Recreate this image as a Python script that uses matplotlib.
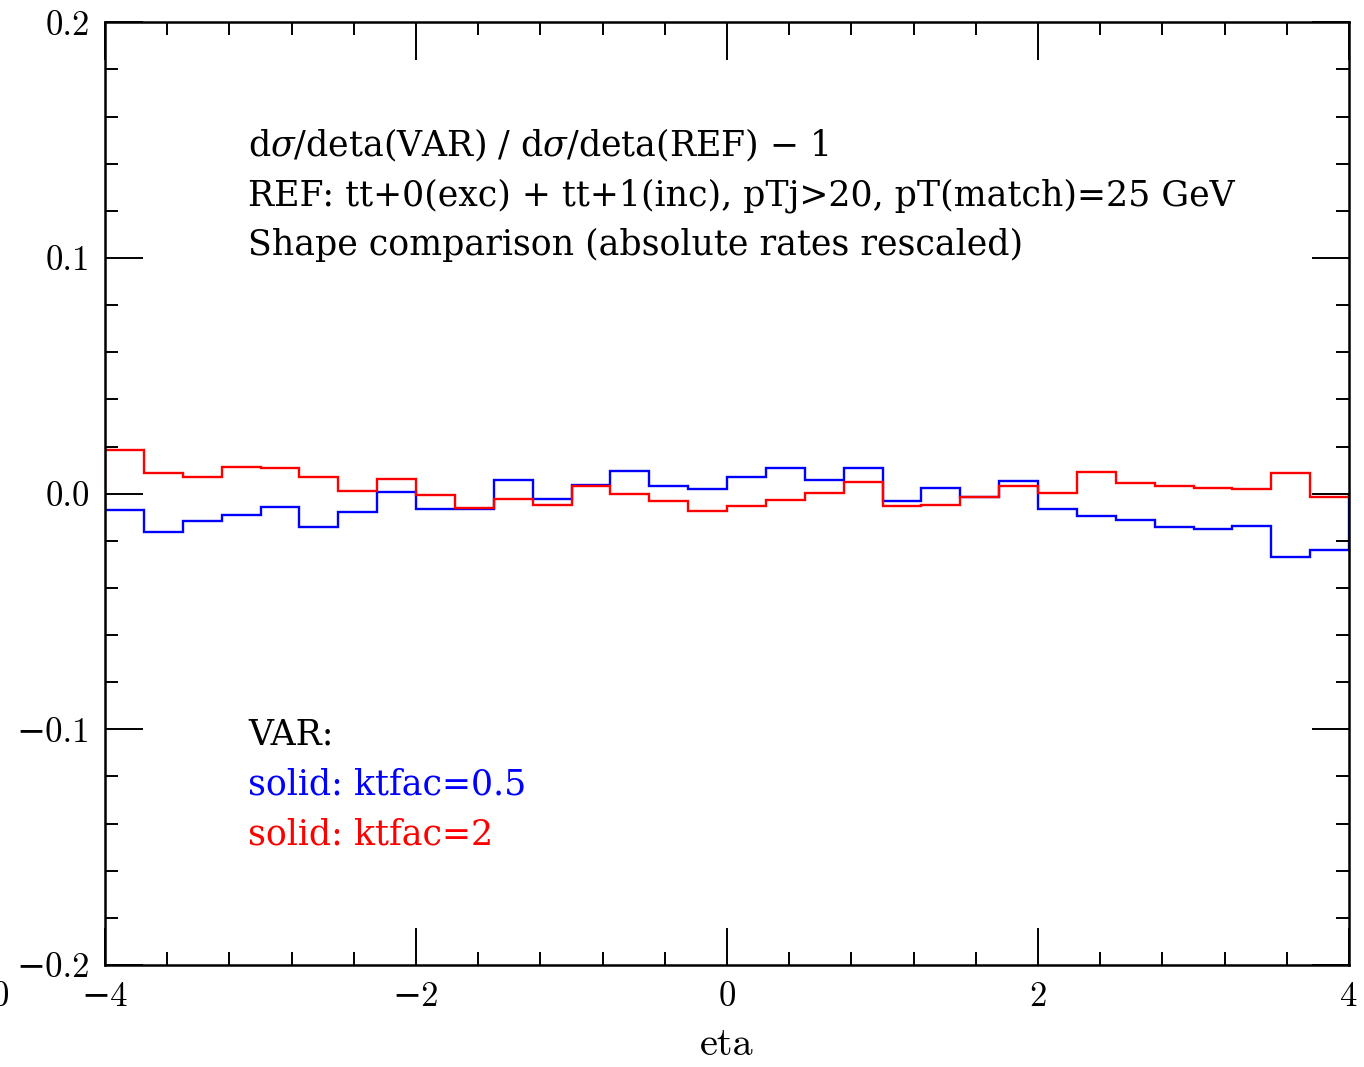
import matplotlib
matplotlib.use("Agg")
import matplotlib.pyplot as plt
import numpy as np
from matplotlib.ticker import MultipleLocator

plt.rcParams["font.family"] = ["cmr10", "DejaVu Serif"]
plt.rcParams["mathtext.fontset"] = "dejavuserif"
plt.rcParams["axes.unicode_minus"] = True

# eta bins of 0.25 from -4 to 4
eta_edges = np.linspace(-4, 4, 33)

ktfac_05 = [-0.0068, -0.0161, -0.0115, -0.0092, -0.0055, -0.0141, -0.0079, 0.0006,
            -0.0066, -0.0065, 0.0057, -0.0021, 0.0038, 0.0096, 0.0031, 0.0020,
            0.0071, 0.0108, 0.0059, 0.0109, -0.0030, 0.0025, -0.0014, 0.0055,
            -0.0065, -0.0095, -0.0112, -0.0140, -0.0148, -0.0137, -0.0270, -0.0239]
ktfac_2 = [0.0184, 0.0088, 0.0069, 0.0113, 0.0110, 0.0069, 0.0010, 0.0062,
           -0.0004, -0.0061, -0.0021, -0.0050, 0.0031, -0.0001, -0.0030, -0.0075,
           -0.0054, -0.0027, 0.0001, 0.0051, -0.0054, -0.0050, -0.0013, 0.0033,
           0.0003, 0.0093, 0.0044, 0.0034, 0.0025, 0.0018, 0.0088, -0.0016]

fig = plt.figure(figsize=(13.64, 10.67), dpi=100)
ax = fig.add_axes([0.077, 0.0956, 0.912, 0.8835])

ax.stairs(ktfac_05, eta_edges, baseline=0, color="blue", lw=1.7)
ax.stairs(ktfac_2, eta_edges, baseline=0, color="red", lw=1.7)

ax.set_xlim(-4, 4)
ax.set_ylim(-0.2, 0.2)
ax.xaxis.set_major_locator(MultipleLocator(2))
ax.xaxis.set_minor_locator(MultipleLocator(0.4))
ax.yaxis.set_major_locator(MultipleLocator(0.1))
ax.yaxis.set_minor_locator(MultipleLocator(0.02))
ax.tick_params(which="both", direction="in", top=True, right=True, width=1.4, labelsize=25)
ax.tick_params(which="major", length=27)
ax.tick_params(which="minor", length=9.5)
ax.tick_params(axis="y", pad=11)
ax.tick_params(axis="x", pad=12)
for sp in ax.spines.values():
    sp.set_linewidth(1.8)

ax.set_yticklabels([("%.1f" % v).replace("-", "\u2212") for v in ax.get_yticks()])
ax.set_xticklabels([("%d" % v).replace("-", "\u2212") for v in ax.get_xticks()])

ax.set_xlabel("eta", fontsize=29, labelpad=10)

# stray clipped label at the far left edge
fig.text(0.0, 0.065, "0", fontsize=25, ha="center", va="center")

tfont = dict(family="DejaVu Serif", fontsize=25, va="center", transform=ax.transAxes)
ax.text(0.115, 0.8695, r"d$\sigma$/deta(VAR) / d$\sigma$/deta(REF) $-$ 1", **tfont)
ax.text(0.115, 0.8165, "REF: tt+0(exc) + tt+1(inc), pTj>20, pT(match)=25 GeV", **tfont)
ax.text(0.115, 0.7635, "Shape comparison (absolute rates rescaled)", **tfont)
ax.text(0.115, 0.2447, "VAR:", **tfont)
ax.text(0.115, 0.1917, "solid: ktfac=0.5", color="blue", **tfont)
ax.text(0.115, 0.1387, "solid: ktfac=2", color="red", **tfont)

fig.savefig("out.png", dpi=100)
